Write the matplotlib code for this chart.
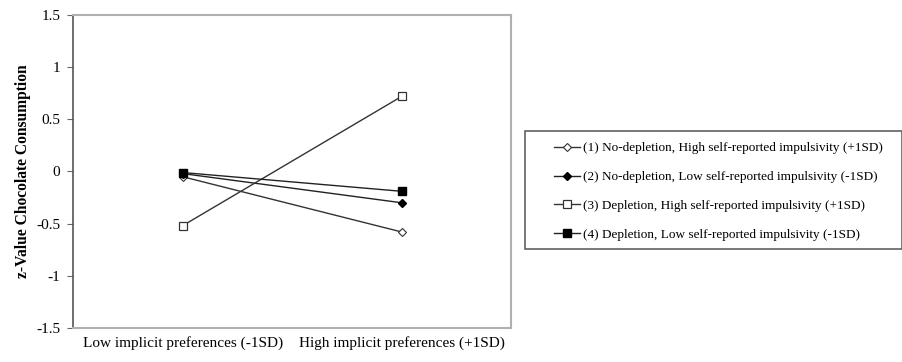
import matplotlib.pyplot as plt
from matplotlib.patches import Rectangle

plt.rcParams['font.family'] = ['Liberation Serif', 'DejaVu Serif']

categories = ["Low implicit preferences (-1SD)", "High implicit preferences (+1SD)"]
labels = [
    "(1) No-depletion, High self-reported impulsivity (+1SD)",
    "(2) No-depletion, Low self-reported impulsivity (-1SD)",
    "(3) Depletion, High self-reported impulsivity (+1SD)",
    "(4) Depletion, Low self-reported impulsivity (-1SD)",
]
nodep_high = [-0.05, -0.58]
nodep_low = [-0.02, -0.30]
dep_high = [-0.52, 0.72]
dep_low = [-0.01, -0.19]

fig = plt.figure(figsize=(9.03, 3.62), dpi=100)
ax = fig.add_axes([0.0808, 0.094, 0.4855, 0.8646])

x = [1, 2]
ax.plot(x, nodep_high, color="#333333", lw=1, marker="D", ms=4.5, mfc="white", mec="#333333", mew=0.8, label=labels[0])
ax.plot(x, nodep_low, color="#222222", lw=1, marker="D", ms=4.5, mfc="black", mec="black", label=labels[1])
ax.plot(x, dep_high, color="#333333", lw=1, marker="s", ms=6, mfc="white", mec="#333333", mew=0.9, label=labels[2])
ax.plot(x, dep_low, color="#222222", lw=1, marker="s", ms=6, mfc="black", mec="black", label=labels[3])

ax.set_xlim(0.5, 2.5)
ax.set_ylim(-1.5, 1.5)
ax.set_yticks([-1.5, -1, -0.5, 0, 0.5, 1, 1.5])
ax.set_yticklabels(["-1.5", "-1", "-0.5", "0", "0.5", "1", "1.5"])
ax.set_xticks(x)
ax.set_xticklabels(categories)
ax.tick_params(axis="x", length=0, labelsize=11, pad=6)
ax.tick_params(axis="y", length=4, width=0.8, color="#666666", labelsize=11, pad=5)

ax.set_ylabel("z-Value Chocolate Consumption", fontsize=11.2, fontweight="bold", labelpad=4)

for side in ["top", "right", "bottom"]:
    ax.spines[side].set_color("#b0b0b0")
    ax.spines[side].set_linewidth(1.5)
ax.spines["left"].set_color("#555555")
ax.spines["left"].set_linewidth(1.2)

# legend without its own frame, box drawn separately
leg = fig.legend(loc="center", bbox_to_anchor=(0.7957, 0.471), fontsize=9.5, frameon=False,
                 handlelength=2.0, handletextpad=0.2, labelspacing=1.27, borderpad=0, borderaxespad=0)
fig.add_artist(Rectangle((0.5814, 0.3122), 0.4175, 0.326, transform=fig.transFigure,
                         fill=False, edgecolor="#555555", linewidth=1.1))

fig.savefig("out.png", dpi=100)
